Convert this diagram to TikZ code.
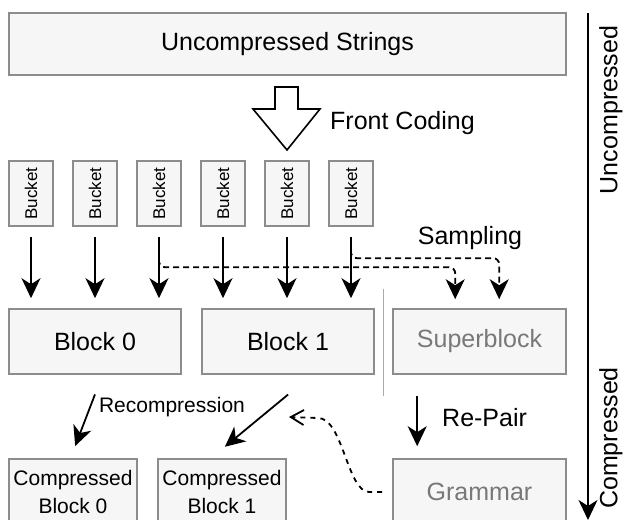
\documentclass[tikz,border=0pt]{standalone}
\usepackage{fontspec}
\setmainfont{Liberation Sans}
\usetikzlibrary{arrows.meta,calc}
\definecolor{boxfill}{RGB}{246,246,246}
\definecolor{boxline}{RGB}{140,140,140}
\definecolor{softtext}{RGB}{120,120,120}
\definecolor{sepgray}{RGB}{170,170,170}

\begin{document}
\begin{tikzpicture}[
  x=1pt, y=-1pt,
  box/.style={draw=boxline, fill=boxfill, line width=1.6pt, minimum width=172pt,
              minimum height=65pt, inner sep=0pt, align=center,
              font=\fontsize{25}{30}\selectfont},
  bucket/.style={box, minimum width=44pt, minimum height=65pt, font=\fontsize{17}{20}\selectfont},
  cbox/.style={box, minimum width=128pt, minimum height=66pt, font=\fontsize{21}{28}\selectfont},
  arrow/.style={-{Stealth[length=20pt,width=19pt,inset=6pt]}, line width=1.8pt},
  samplearrow/.style={arrow, dash pattern=on 6pt off 4pt, rounded corners=6pt},
  note/.style={inner sep=0pt, font=\fontsize{25}{30}\selectfont}
]
  \useasboundingbox (0,0) rectangle (625,520);

  % Uncompressed strings
  \node[box, minimum width=557pt, minimum height=62pt] (strings) at (287.5,44) {Uncompressed Strings};

  % Front coding arrow
  \draw[line width=1.6pt, fill=white] (275,87) -- (298,87) -- (298,109) -- (320,109)
    -- (287,150) -- (253,109) -- (275,109) -- cycle;
  \node[note, anchor=west] (fc) at (330,123) {Front Coding};

  % Buckets
  \foreach \i in {1,...,6}
    \node[bucket] (b\i) at ({31+64*(\i-1)},193.5) {\rotatebox{90}{Bucket}};

  % Blocks
  \node[box] (blk0) at (95,341.5) {Block 0};
  \node[box] (blk1) at (288,341.5) {Block 1};
  \node[box, text=softtext, minimum width=173pt] (sb) at (479.5,341.5) {Superblock};

  % Arrows
  \foreach \i in {1,...,6}
    \draw[arrow, shorten <=10pt, shorten >=10pt] (b\i.south) -- (b\i.south |- blk0.north);

  % Sampling
  \draw[samplearrow] ($(b3.south)+(0,32)$) |- ($(sb.north west)+(63,-41)$) -- ($(sb.north west)+(63,-9)$);
  \draw[samplearrow] ($(b6.south)+(0,28)$) |- ($(sb.north west)+(107,-50)$) -- ($(sb.north west)+(107,-9)$);
  \node[note] (samp) at (470,238) {Sampling};

  % Separator
  \draw[sepgray, line width=1.6pt] ($(blk1.north east)!0.5!(sb.north west)+(0,-19)$)
    -- ($(blk1.south east)!0.5!(sb.south west)+(0,21)$);

  % Compressed
  \node[cbox] (cb0) at (73,492) {Compressed\\Block 0};
  \node[cbox] (cb1) at (222,492) {Compressed\\Block 1};
  \node[box, text=softtext, minimum width=173pt, minimum height=66pt] (gram) at (479.5,492) {Grammar};

  % Recompression
  \draw[arrow, shorten <=21pt, shorten >=13pt] ($(blk0.south)+(7.5,0)$) -- ($(cb0.north)+(-2.5,0)$);
  \draw[arrow, shorten <=31pt, shorten >=18pt] ($(blk1.south)+(24,0)$) -- ($(cb1.north)+(-11,0)$);
  \node[note, font=\fontsize{21}{25}\selectfont] (recomp) at (172,407) {Recompression};

  % Re-Pair
  \draw[arrow, shorten <=21pt, shorten >=12pt] ($(sb.south west)+(25,0)$) -- ($(gram.north west)+(25,0)$);
  \node[note, anchor=west] (rp) at (442,418) {Re-Pair};

  % Grammar back to blocks
  \coordinate (back) at (289,417);
  \draw[line width=1.8pt, dash pattern=on 5pt off 5pt, -{Straight Barb[length=13pt,width=15pt]}]
    ($(gram.west)+(-10,0)$) -- ++(-13,0) .. controls +(-22,0) and +(25,0) .. (318,418) -- (back);

  % Axis
  \coordinate (axtop) at (588,13);
  \coordinate (axbot) at (588,520);
  \draw[arrow] (axtop) -- (axbot);
  \node[note, rotate=90] (unc) at (611,110) {Uncompressed};
  \node[note, rotate=90] (cmp) at (611,438) {Compressed};

\end{tikzpicture}
\end{document}
